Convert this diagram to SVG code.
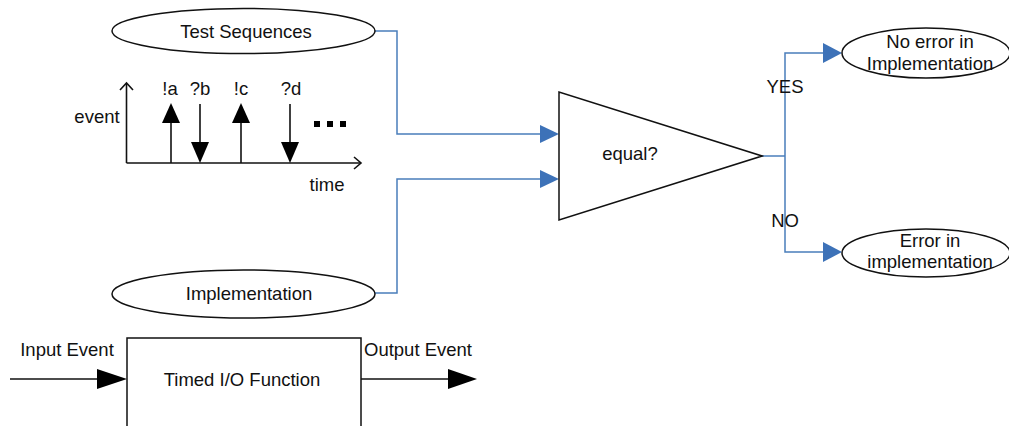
<svg xmlns="http://www.w3.org/2000/svg" width="1009" height="426" viewBox="0 0 1009 426">
<style>
text{font-family:"Liberation Sans",Arial,sans-serif;font-size:18.5px;fill:#111}
.c{text-anchor:middle}
.sh{fill:#fff;stroke:#111;stroke-width:1.5}
.ln{fill:none;stroke:#111;stroke-width:1.6}
.bl{fill:none;stroke:#4a7ebb;stroke-width:1.5}
.bh{fill:#3d72b8}
.kh{fill:#000}
</style>
<rect width="1009" height="426" fill="#fff"/>
<g id="connectors">
<polyline class="bl" points="375,31 397,31 397,134 541,134"/>
<polygon class="bh" points="540,125 559,134 540,143"/>
<polyline class="bl" points="375,293 397,293 397,179 541,179"/>
<polygon class="bh" points="540,170 559,179 540,188"/>
<polyline class="bl" points="762,156 785,156"/>
<polyline class="bl" points="824,53 785,53 785,252 824,252"/>
<polygon class="bh" points="823,43 842,53 823,63"/>
<polygon class="bh" points="823,242 842,252 823,262"/>
<text x="785" y="93" class="c">YES</text>
<text x="785" y="227" class="c">NO</text>
</g>
<g id="test-sequences">
<ellipse class="sh" cx="243.5" cy="31" rx="131.5" ry="22.5"/>
<text x="246" y="38" class="c">Test Sequences</text>
</g>
<g id="timeline">
<line class="ln" x1="126.5" y1="163" x2="126.5" y2="84"/>
<polyline class="ln" points="120,90 126.5,83 133,90"/>
<line class="ln" x1="126.5" y1="163" x2="360" y2="163"/>
<polyline class="ln" points="354,157 361,163 354,169"/>
<text x="97" y="123" class="c">event</text>
<line class="ln" x1="171" y1="163" x2="171" y2="118"/>
<polygon class="kh" points="162,123 171,103 180,123"/>
<line class="ln" x1="200" y1="104" x2="200" y2="148"/>
<polygon class="kh" points="191,142 200,163 209,142"/>
<line class="ln" x1="241" y1="163" x2="241" y2="118"/>
<polygon class="kh" points="232,123 241,103 250,123"/>
<line class="ln" x1="290" y1="104" x2="290" y2="148"/>
<polygon class="kh" points="281,142 290,163 299,142"/>
<text x="170" y="95" class="c">!a</text>
<text x="200" y="95" class="c">?b</text>
<text x="241" y="95" class="c">!c</text>
<text x="291" y="95" class="c">?d</text>
<rect x="314" y="121" width="6" height="6" fill="#000"/>
<rect x="327" y="121" width="6" height="6" fill="#000"/>
<rect x="340" y="121" width="6" height="6" fill="#000"/>
<text x="327" y="191" class="c">time</text>
</g>
<g id="implementation">
<ellipse class="sh" cx="243.5" cy="294" rx="131.5" ry="24"/>
<text x="249" y="300" class="c">Implementation</text>
</g>
<g id="equal">
<polygon class="sh" points="559,92 559,220 762,156"/>
<text x="630" y="160" class="c">equal?</text>
</g>
<g id="no-error">
<ellipse class="sh" cx="926" cy="53" rx="84" ry="25"/>
<text x="930" y="48" class="c">No error in</text>
<text x="930" y="70" class="c">Implementation</text>
</g>
<g id="error">
<ellipse class="sh" cx="926" cy="253" rx="84" ry="24"/>
<text x="930" y="247" class="c">Error in</text>
<text x="930" y="268" class="c">implementation</text>
</g>
<g id="timed-io">
<rect class="sh" x="127" y="338" width="234" height="100"/>
<text x="242" y="386" class="c">Timed I/O Function</text>
<line class="ln" x1="10" y1="379" x2="100" y2="379"/>
<polygon class="kh" points="97,369 127,379 97,389"/>
<line class="ln" x1="361" y1="379" x2="450" y2="379"/>
<polygon class="kh" points="448,369 477,379 448,389"/>
<text x="67" y="356" class="c">Input Event</text>
<text x="418" y="356" class="c">Output Event</text>
</g>
</svg>
